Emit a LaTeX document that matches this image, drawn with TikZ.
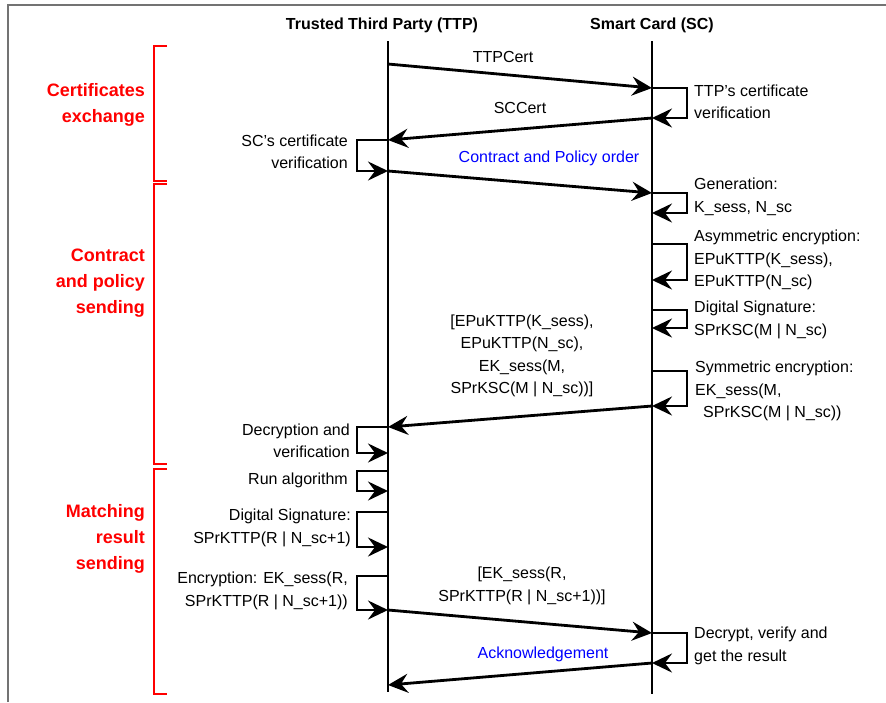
\documentclass[tikz,border=0pt]{standalone}
\usepackage{fontspec}
\setmainfont{Liberation Sans}
\usepackage{tikz}
\usetikzlibrary{arrows.meta}
\usetikzlibrary{positioning}

\tikzset{
  txt/.style={inner sep=0pt, font=\fontsize{16}{22.5}\selectfont},
  head/.style={inner sep=0pt, font=\fontsize{16}{19}\selectfont\bfseries},
  phase/.style={inner sep=0pt, align=right, anchor=east, text=red, font=\fontsize{18}{26}\selectfont\bfseries},
  life/.style={line width=2.8pt},
  msg/.style={line width=2.8pt, -{Stealth[length=20pt, width=19pt, inset=7pt]}},
  brack/.style={red, line width=2.4pt}
}

\begin{document}
\begin{tikzpicture}[x=1pt, y=-1pt]
				\useasboundingbox (0,0) rectangle (886,702);
				\draw[black!55, line width=2pt] (8,702) -- (8,5) -- (886,5);

				\node[head] (ttp) at (382,25) {Trusted Third Party (TTP)};
				\node[head] (sc) at (652,25) {Smart Card (SC)};
				\coordinate (ttpTop) at (388,41);
				\coordinate (ttpBot) at (388,692);
				\coordinate (scTop) at (652,41);
				\coordinate (scBot) at (652,694);
				\draw[life] (ttpTop) -- (ttpBot);
				\draw[life] (scTop) -- (scBot);

				\coordinate (ta) at (388,64);
				\coordinate (tb) at (388,140);
				\coordinate (tc) at (388,171);
				\coordinate (td) at (388,427);
				\coordinate (te) at (388,453);
				\coordinate (tf) at (388,471);
				\coordinate (tg) at (388,491);
				\coordinate (th) at (388,512);
				\coordinate (ti) at (388,547);
				\coordinate (tj) at (388,576);
				\coordinate (tk) at (388,610);
				\coordinate (tl) at (388,685);

				\coordinate (sa) at (652,88);
				\coordinate (sb) at (652,118);
				\coordinate (sc1) at (652,193);
				\coordinate (sd) at (652,213);
				\coordinate (se) at (652,244);
				\coordinate (sf) at (652,280);
				\coordinate (sg) at (652,310);
				\coordinate (sh) at (652,328);
				\coordinate (si) at (652,371);
				\coordinate (sj) at (652,406);
				\coordinate (sk) at (652,633);
				\coordinate (sl) at (652,663);

				\draw[msg] (ta) -- (sa);
				\draw[msg] (sb) -- (tb);
				\draw[msg] (tc) -- (sc1);
				\draw[msg] (sj) -- (td);
				\draw[msg] (tk) -- (sk);
				\draw[msg] (sl) -- (tl);

				\draw[msg] (sa) -- ++(35,0) |- (sb);
				\draw[msg] (sc1) -- ++(35,0) |- (sd);
				\draw[msg] (se) -- ++(35,0) |- (sf);
				\draw[msg] (sg) -- ++(35,0) |- (sh);
				\draw[msg] (si) -- ++(35,0) |- (sj);
				\draw[msg] (sk) -- ++(35,0) |- (sl);
				\draw[msg] (tb) -- ++(-31,0) |- (tc);
				\draw[msg] (td) -- ++(-31,0) |- (te);
				\draw[msg] (tf) -- ++(-31,0) |- (tg);
				\draw[msg] (th) -- ++(-31,0) |- (ti);
				\draw[msg] (tj) -- ++(-31,0) |- (tk);

				\node[txt] (m1) at (503,57) {TTPCert};
				\node[txt] (m2) at (520,108) {SCCert};
				\node[txt, text=blue] (m3) at (549,158) {Contract and Policy order};
				\node[txt, align=center] (m4) at (522,356) {[EPuKTTP(K\_sess),\\EPuKTTP(N\_sc),\\EK\_sess(M,\\SPrKSC(M | N\_sc))]};
				\node[txt, align=center] (m5) at (522,586) {[EK\_sess(R,\\SPrKTTP(R | N\_sc+1))]};
				\node[txt, text=blue] (m6) at (543,654) {Acknowledgement};

				\node[txt, align=left, anchor=west] (l1) at (694,102) {TTP's certificate\\verification};
				\node[txt, align=left, anchor=west] (l2) at (694,197) {Generation:\\K\_sess, N\_sc};
				\node[txt, align=left, anchor=west] (l3) at (694,260) {Asymmetric encryption:\\EPuKTTP(K\_sess),\\EPuKTTP(N\_sc)};
				\node[txt, align=left, anchor=west] (l4) at (694,320) {Digital Signature:\\SPrKSC(M | N\_sc)};
				\node[txt, align=left, anchor=west] (l5) at (695,391) {Symmetric encryption:\\EK\_sess(M,\\\hspace*{8pt}SPrKSC(M | N\_sc))};
				\node[txt, align=left, anchor=west] (l6) at (694,646) {Decrypt, verify and\\get the result};

				\node[txt, align=right, anchor=east] (r1) at (348,152) {SC's certificate\\verification};
				\node[txt, align=right, anchor=east] (r2) at (350,441) {Decryption and\\verification};
				\node[txt, align=right, anchor=east] (r3) at (348,480) {Run algorithm};
				\node[txt, align=right, anchor=east] (r4) at (351,528) {Digital Signature:\\SPrKTTP(R | N\_sc+1)};
				\node[txt, align=right, anchor=east] (r5) at (348,591) {Encryption: EK\_sess(R,\\SPrKTTP(R | N\_sc+1))};

				\draw[brack] (167,46) -- (154,46) -- (154,181) -- (167,181);
				\draw[brack] (167,184) -- (154,184) -- (154,464) -- (167,464);
				\draw[brack] (167,469) -- (154,469) -- (154,694) -- (167,694);
				\node[phase] (p1) at (145,105) {Certificates\\exchange};
				\node[phase] (p2) at (145,283) {Contract\\and policy\\sending};
				\node[phase] (p3) at (145,539) {Matching\\result\\sending};
			\end{tikzpicture}
\end{document}
